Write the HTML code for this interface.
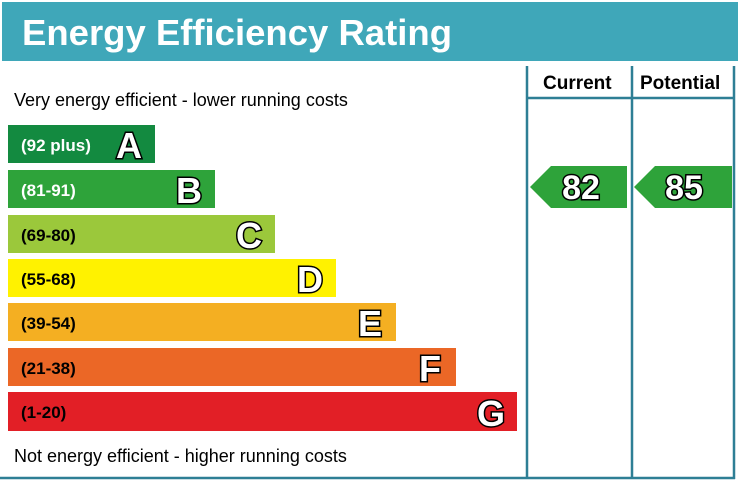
<!DOCTYPE html>
<html><head><style>body{margin:0;background:#fff}</style></head><body>
<svg width="738" height="483" xmlns="http://www.w3.org/2000/svg" font-family="Liberation Sans, Arial, sans-serif">
<rect x="2" y="2" width="736" height="59" fill="#3fa7b9"/>
<text x="22" y="45" font-size="36.5" font-weight="bold" fill="#fff">Energy Efficiency Rating</text>
<g stroke="#2e7f95" stroke-width="2.5" fill="none">
<line x1="527" y1="66" x2="527" y2="479"/>
<line x1="632" y1="66" x2="632" y2="479"/>
<line x1="734" y1="66" x2="734" y2="479"/>
<line x1="527" y1="98" x2="734" y2="98"/>
<line x1="0" y1="478" x2="735" y2="478"/>
</g>
<text x="543" y="89" font-size="19" font-weight="bold">Current</text>
<text x="640" y="89" font-size="19" font-weight="bold">Potential</text>
<text x="14" y="106" font-size="18">Very energy efficient - lower running costs</text>
<text x="14" y="462" font-size="18">Not energy efficient - higher running costs</text>
<g font-weight="bold">
<rect x="8" y="125" width="147" height="38" fill="#138a40"/>
<rect x="8" y="170" width="207" height="38" fill="#2ea33a"/>
<rect x="8" y="215" width="267" height="38" fill="#9bc83b"/>
<rect x="8" y="259" width="328" height="38" fill="#fff200"/>
<rect x="8" y="303" width="388" height="38" fill="#f4af22"/>
<rect x="8" y="348" width="448" height="38" fill="#eb6726"/>
<rect x="8" y="392" width="509" height="39" fill="#e21f26"/>
<g font-size="17">
<text x="21" y="151" fill="#fff">(92 plus)</text>
<text x="21" y="196" fill="#fff">(81-91)</text>
<text x="21" y="241" fill="#000">(69-80)</text>
<text x="21" y="285" fill="#000">(55-68)</text>
<text x="21" y="329" fill="#000">(39-54)</text>
<text x="21" y="374" fill="#000">(21-38)</text>
<text x="21" y="418" fill="#000">(1-20)</text>
</g>
<g font-size="36" fill="#fff" stroke="#000" stroke-width="3" paint-order="stroke" text-anchor="middle">
<text x="129" y="158">A</text>
<text x="189" y="203">B</text>
<text x="249" y="248">C</text>
<text x="310" y="292">D</text>
<text x="370" y="336">E</text>
<text x="430" y="381">F</text>
<text x="491" y="426">G</text>
</g>
<polygon points="530,187 551,166 627,166 627,208 551,208" fill="#2ea33a"/>
<polygon points="634,187 655,166 732,166 732,208 655,208" fill="#2ea33a"/>
<g font-size="34" fill="#fff" stroke="#000" stroke-width="3" paint-order="stroke" text-anchor="middle">
<text x="581" y="199">82</text>
<text x="684" y="199">85</text>
</g>
</g>
</svg>
</body></html>
